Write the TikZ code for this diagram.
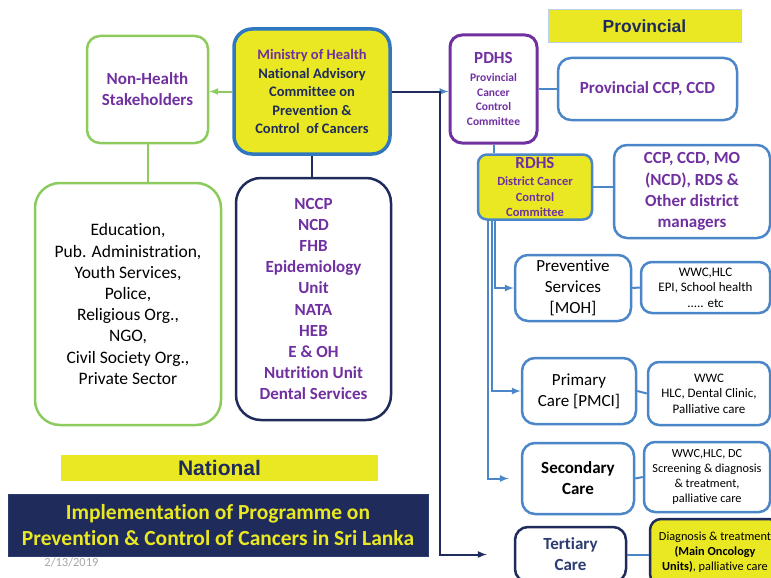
\documentclass[tikz,border=0pt]{standalone}
\usepackage{fontspec}
\setmainfont{Carlito}[Ligatures=NoCommon]
\newfontfamily\arialf{Liberation Sans}
\usepackage{xcolor}
\usepackage{tikz}
\usetikzlibrary{math}
\definecolor{cyel}{HTML}{EAE823}
\definecolor{cpur}{HTML}{7030A0}
\definecolor{cnav}{HTML}{1F2B5B}
\definecolor{cter}{HTML}{2C3B70}
\definecolor{cblu}{HTML}{4A86C8}
\definecolor{cmbl}{HTML}{2F78C0}
\definecolor{cgrn}{HTML}{8DCB5E}
\newcommand\fs[2]{\fontsize{#1}{#2}\selectfont}

\begin{document}
\begin{tikzpicture}[x=1pt,y=-1pt,
	box/.style={draw,rounded corners=13pt,line width=2.5pt,align=center,inner sep=0pt},
	gbox/.style={box,draw=cgrn},
	bbox/.style={box,draw=cblu},
	nbox/.style={box,draw=cnav},
	gline/.style={cgrn,line width=2pt},
	bline/.style={cblu,line width=2pt},
	nline/.style={cnav,line width=2pt}]
\useasboundingbox (0,0) rectangle (771,578);
\tikzmath{
	\dx = 48;\tg = 27;
	\ra = 11;\rb = 15;\rc = 18;
	% national side
	{\node[gbox,minimum width=121pt,minimum height=107pt,font=\fs{17}{21}\bfseries,text=cpur] (nh) at (147.5,89.5) {Non-Health\\Stakeholders};};
	{\node[box,draw=cmbl,fill=cyel,line width=3.5pt,rounded corners=18pt,minimum width=156pt,minimum height=125pt,font=\fs{14.5}{18.5}\bfseries,text=cnav] (min) at (312,91.5) {{\color{cpur}Ministry of Health}\\National Advisory\\Committee on\\Prevention \&\\Control\ \ of Cancers};};
	{\node[gbox,rounded corners=25pt,minimum width=186pt,minimum height=242pt,font=\fs{17.5}{21.2}] (edu) at (128,304) {Education,\\Pub. Administration,\\Youth Services,\\Police,\\Religious Org.,\\NGO,\\Civil Society Org.,\\Private Sector};};
	{\node[nbox,rounded corners=25pt,minimum width=155pt,minimum height=242pt,font=\fs{17}{21.2}\bfseries,text=cpur] (ncc) at (313.5,299) {NCCP\\NCD\\FHB\\Epidemiology\\Unit\\NATA\\HEB\\E \& OH\\Nutrition Unit\\Dental Services};};
	{\node[fill=cyel,minimum width=317pt,minimum height=26pt,font=\arialf\fs{21}{24}\bfseries,text=cnav] (nat) at (219.5,468) {National};};
	{\node[fill=cnav,draw=cter,minimum width=420pt,minimum height=62pt,align=center,inner sep=0pt,font=\fs{21.5}{26}\bfseries,text=cyel] (impl) at (218,525) {Implementation of Programme on\\Prevention \& Control of Cancers in Sri Lanka};};
	{\node[font=\fs{12.5}{14},text=black!35] (date) at (71.5,562) {2/13/2019};};
	% provincial side
	{\node[fill=cyel,draw=cblu!40,line width=1pt,minimum width=193pt,minimum height=33pt,font=\arialf\fs{17.5}{20}\bfseries,text=cnav] (prov) at (644.5,26.5) {Provincial};};
	{\node[box,draw=cpur,line width=3pt,rounded corners=12pt,minimum width=87pt,minimum height=108pt,text=cpur,font=\bfseries\fs{11.5}{14.4}] (pdhs) at (493.5,89) {{\fs{17}{20}PDHS}\\[3.5pt]Provincial\\Cancer\\Control\\Committee};};
	{\node[bbox,minimum width=179pt,minimum height=62pt,font=\fs{17}{21}\bfseries,text=cpur] (pccp) at (647.5,89) {Provincial CCP, CCD};};
	{\node[bbox,fill=cyel,rounded corners=9pt,minimum width=114pt,minimum height=65pt,text=cpur,font=\bfseries\fs{12.5}{15.2}] (rdhs) at (535,187) {{\fs{17}{19}RDHS}\\[2pt]District Cancer\\Control\\Committee};};
	{\node[bbox,minimum width=156pt,minimum height=93pt,font=\fs{17}{21.2}\bfseries,text=cpur] (dccp) at (692,191.5) {CCP, CCD, MO\\(NCD), RDS \&\\Other district\\managers};};
	{\node[bbox,minimum width=116pt,minimum height=66pt,font=\fs{17}{21}] (prev) at (573,288) {Preventive\\Services\\{[MOH]}};};
	{\node[bbox,rounded corners=11pt,minimum width=129pt,minimum height=51pt,font=\fs{13}{15.5}] (prevx) at (705.5,287.5) {WWC,HLC\\EPI, School health\\..... etc};};
	{\node[bbox,minimum width=114pt,minimum height=66pt,font=\fs{17}{21}] (prim) at (579,391) {Primary\\Care [PMCI]};};
	{\node[bbox,rounded corners=11pt,minimum width=122pt,minimum height=63pt,font=\fs{13}{15.5}] (primx) at (709,393.5) {WWC\\HLC, Dental Clinic,\\Palliative care};};
	{\node[bbox,minimum width=112pt,minimum height=71pt,font=\fs{17}{21}\bfseries] (sec) at (578,478.5) {Secondary\\Care};};
	{\node[bbox,rounded corners=11pt,minimum width=126pt,minimum height=70pt,font=\fs{12.3}{14.7}] (secx) at (707,477) {WWC,HLC, DC\\Screening \& diagnosis\\\& treatment,\\palliative care};};
	{\node[nbox,minimum width=111pt,minimum height=55pt,font=\fs{17}{21}\bfseries,text=cter] (ter) at (570.5,554.5) {Tertiary\\Care};};
	{\node[nbox,fill=cyel,rounded corners=11pt,minimum width=130pt,minimum height=66pt,font=\fs{12.3}{15}] (terx) at (715,552) {Diagnosis \& treatment\\\textbf{(Main Oncology}\\\textbf{Units)}, palliative care};};
	% connectors
	{\draw[gline,-latex] (min.west) -- (min.west -| nh.east);};
	{\draw[gline] (nh.south) -- (nh.south |- edu.north);};
	{\draw[nline] (min.south) -- (min.south |- ncc.north);};
	{\draw[bline,-latex] (min.east) -- (min.east -| pdhs.west);};
	{\draw[nline,-latex,shorten >=\tg pt] (min.east) -- ++(\dx,0) |- (ter.west);};
	{\draw[bline] (pdhs.east) -- (pdhs.east -| pccp.west);};
	{\draw[bline] (pdhs.south) -- (pdhs.south |- rdhs.north);};
	{\draw[bline] (rdhs.east) -- (rdhs.east -| dccp.west);};
	{\draw[bline,-latex] ([xshift=\rc pt]rdhs.south west) |- (prev.west);};
	{\draw[bline,-latex] ([xshift=\rb pt]rdhs.south west) |- (prim.west);};
	{\draw[bline,-latex,shorten >=12pt] ([xshift=\ra pt]rdhs.south west) |- (sec.west);};
	{\draw[bline] (prev.east) -- (prevx.west);};
	{\draw[bline] (prim.east) -- (primx.west);};
	{\draw[bline] (sec.east) -- (secx.west);};
	{\draw[bline] (ter.east) -- (ter.east -| terx.west);};
};
\end{tikzpicture}
\end{document}
